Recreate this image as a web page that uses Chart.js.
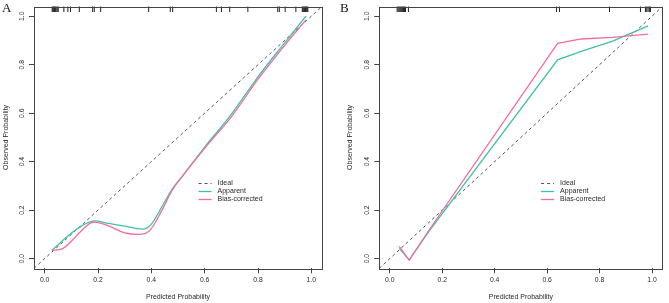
<!DOCTYPE html>
<html>
<head>
<meta charset="utf-8">
<script src="https://cdn.jsdelivr.net/npm/chart.js@4.4.1/dist/chart.umd.min.js"></script>
<style>
  html, body { margin: 0; padding: 0; background: #fff; }
  #wrap { position: relative; width: 669px; height: 303px; }
  .pane { position: absolute; top: 0; height: 303px; }
  .tag { position: absolute; top: 0; font-family: "Liberation Serif", "DejaVu Serif", serif; font-size: 13px; color: #111; }
</style>
</head>
<body>
<div id="wrap">
  <div class="pane" style="left:0;width:334px"><canvas id="plotA"></canvas></div>
  <div class="pane" style="left:334px;width:335px"><canvas id="plotB"></canvas></div>
  <div class="tag" style="left:2px">A</div>
  <div class="tag" style="left:340px">B</div>
</div>
<script>
// axis ticks and the ideal diagonal (axis range in R is 0..1 plus 4%)
var tickValues = [0, 0.2, 0.4, 0.6, 0.8, 1.0];
var tickLabels = ['0.0', '0.2', '0.4', '0.6', '0.8', '1.0'];
var seriesNames = ['Ideal', 'Apparent', 'Bias-corrected'];
var idealLine = [-0.04, 1.04];

// panel A
var predA     = [0.027, 0.065, 0.1, 0.135, 0.18, 0.24, 0.3, 0.37, 0.40, 0.44, 0.48, 0.52, 0.6, 0.7, 0.8, 0.9, 0.98];
var apparentA = [0.034, 0.072, 0.105, 0.132, 0.155, 0.145, 0.134, 0.122, 0.142, 0.215, 0.29, 0.345, 0.46, 0.595, 0.75, 0.89, 1.0];
var biasA     = [0.034, 0.04, 0.072, 0.112, 0.15, 0.135, 0.106, 0.102, 0.124, 0.2, 0.285, 0.345, 0.455, 0.585, 0.74, 0.88, 0.985];
var rugA = [0.028, 0.031, 0.034, 0.037, 0.040, 0.043, 0.047, 0.051, 0.072, 0.087, 0.097, 0.130, 0.180, 0.186,
            0.210, 0.390, 0.471, 0.480, 0.644, 0.663, 0.694, 0.762, 0.874, 0.880, 0.902, 0.942,
            0.966, 0.969, 0.972, 0.975, 0.978, 0.981, 0.984, 0.987];

// panel B
var predB     = [0.036, 0.074, 0.15, 0.64, 0.73, 0.85, 0.985];
var apparentB = [0.042, -0.006, 0.113, 0.82, 0.855, 0.897, 0.96];
var biasB     = [0.05, -0.006, 0.118, 0.888, 0.906, 0.913, 0.926];
var rugB = [0.028, 0.032, 0.036, 0.040, 0.044, 0.048, 0.052, 0.056, 0.060, 0.071, 0.636, 0.647,
            0.838, 0.956, 0.975, 0.980, 0.985, 0.990, 0.994];

var teal = '#3ec2a6';
var pink = '#f56aa6';
var ink = '#2a2a2a';
var fontFamily = '"Liberation Sans", Arial, sans-serif';

function pts(xs, ys) {
    return xs.map(function (x, i) { return { x: x, y: ys[i] }; });
}

// R draws a full box round the plot region
var boxPlugin = {
    id: 'box',
    afterDatasetsDraw: function (chart) {
        var a = chart.chartArea, c = chart.ctx;
        c.save();
        c.strokeStyle = '#444';
        c.lineWidth = 1;
        c.strokeRect(Math.round(a.left) + 0.5, Math.round(a.top) + 0.5,
                     Math.round(a.right - a.left), Math.round(a.bottom - a.top));
        c.restore();
    }
};

// legend sitting inside the plot, placed in data units
var insetLegend = {
    id: 'insetLegend',
    afterDraw: function (chart, args, opts) {
        var x0 = chart.scales.x.getPixelForValue(opts.at[0]);
        var y0 = chart.scales.y.getPixelForValue(opts.at[1]);
        var c = chart.ctx;
        c.save();
        c.font = '7px ' + fontFamily;
        c.textBaseline = 'middle';
        c.fillStyle = ink;
        seriesNames.forEach(function (name, i) {
            var ds = chart.data.datasets[i];
            var y = Math.round(y0 + i * 7.7) + 0.5;
            c.strokeStyle = ds.borderColor;
            c.lineWidth = ds.borderWidth;
            c.setLineDash(ds.borderDash || []);
            c.beginPath();
            c.moveTo(x0, y);
            c.lineTo(x0 + 13, y);
            c.stroke();
            c.setLineDash([]);
            c.fillText(name, x0 + 19, y);
        });
        c.restore();
    }
};

function setTicks(scale) {
    scale.ticks = tickValues.map(function (v) { return { value: v }; });
}

function makeChart(id, pred, app, bias, rug, pad, yWidth, tension) {
    var ideal = pts(idealLine, idealLine);
    var rugPts = rug.map(function (v) { return { x: v, y: idealLine[1] }; });
    var axisGrid = { drawOnChartArea: false, drawTicks: true, tickLength: 5, color: '#444', lineWidth: 1 };
    return new Chart(document.getElementById(id), {
        type: 'scatter',
        data: {
            datasets: [{
                label: seriesNames[0],
                data: ideal,
                showLine: true,
                borderColor: '#555',
                borderWidth: 1,
                borderDash: [3, 3],
                pointRadius: 0,
                order: 2
            }, {
                label: seriesNames[1],
                data: pts(pred, app),
                showLine: true,
                borderColor: teal,
                borderWidth: 1.3,
                pointRadius: 0,
                tension: tension,
                order: 1
            }, {
                label: seriesNames[2],
                data: pts(pred, bias),
                showLine: true,
                borderColor: pink,
                borderWidth: 1.3,
                pointRadius: 0,
                tension: tension,
                order: 0
            }, {
                label: 'rug',
                data: rugPts,
                showLine: false,
                pointStyle: 'line',
                rotation: 90,
                pointRadius: 5.5,
                borderColor: '#222',
                borderWidth: 1,
                order: 3
            }]
        },
        options: {
            responsive: true,
            maintainAspectRatio: false,
            animation: false,
            events: [],
            layout: { padding: pad },
            plugins: {
                legend: { display: false },
                tooltip: { enabled: false },
                insetLegend: { at: [0.577, 0.311] }
            },
            scales: {
                x: {
                    type: 'linear',
                    min: idealLine[0],
                    max: idealLine[1],
                    afterBuildTicks: setTicks,
                    afterFit: function (s) { s.height = 34.7; },
                    grid: axisGrid,
                    border: { display: false },
                    ticks: {
                        padding: 3,
                        color: ink,
                        font: { family: fontFamily, size: 6.8 },
                        callback: function (v) { return tickLabels[tickValues.indexOf(v)]; }
                    },
                    title: {
                        display: true,
                        text: 'Predicted Probability',
                        color: ink,
                        font: { family: fontFamily, size: 7 },
                        padding: { top: 0, bottom: 2 }
                    }
                },
                y: {
                    type: 'linear',
                    min: idealLine[0],
                    max: idealLine[1],
                    afterBuildTicks: setTicks,
                    afterFit: function (s) { s.width = yWidth; },
                    grid: axisGrid,
                    border: { display: false },
                    ticks: {
                        padding: 2,
                        minRotation: 90,
                        maxRotation: 90,
                        crossAlign: 'center',
                        color: ink,
                        font: { family: fontFamily, size: 6.8 },
                        callback: function (v) { return tickLabels[tickValues.indexOf(v)]; }
                    },
                    title: {
                        display: true,
                        text: 'Observed Probability',
                        color: ink,
                        font: { family: fontFamily, size: 7 },
                        padding: { top: 2, bottom: 0 }
                    }
                }
            }
        },
        plugins: [boxPlugin, insetLegend]
    });
}

makeChart('plotA', predA, apparentA, biasA, rugA, { top: 4.7, right: 12, bottom: 0, left: 0 }, 34, 0.35);
makeChart('plotB', predB, apparentB, biasB, rugB, { top: 4.7, right: 2, bottom: 0, left: 10 }, 35.3, 0);
</script>
</body>
</html>
